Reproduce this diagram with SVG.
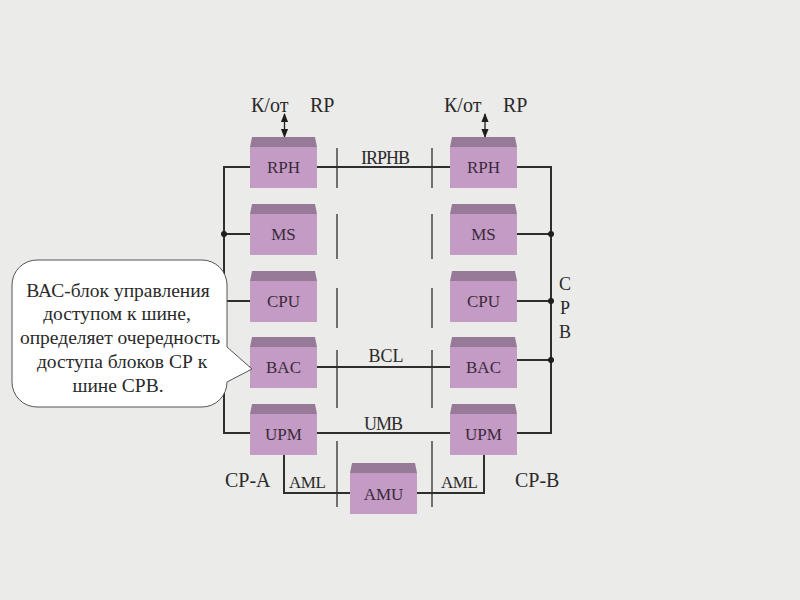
<svg xmlns="http://www.w3.org/2000/svg" xmlns:xlink="http://www.w3.org/1999/xlink" width="800" height="600" viewBox="0 0 800 600">
<style>
text{font-family:'Liberation Serif','DejaVu Serif',serif}
.lbl{fill:#2a2a2a}
.bt{font-size:17px;fill:#3a2a3a;text-anchor:middle}
.ln{stroke:#2e2e2e;stroke-width:2;fill:none}
.sep{stroke:#2e2e2e;stroke-width:1.3;fill:none}
.dot{fill:#1e1e1e}
.co{font-size:19.5px;fill:#2a2a2a;text-anchor:middle}
</style>
<defs>
<g id="blk">
<rect x="0" y="10" width="67" height="41" fill="#c49bc4"/>
<polygon points="2,0 65,0 67,10 0,10" fill="#977a97"/>
</g>
<marker id="ah" viewBox="0 0 10 10" refX="9" refY="5" markerWidth="7" markerHeight="7" orient="auto-start-reverse">
<path d="M0,1 L10,5 L0,9 Z" fill="#1e1e1e"/>
</marker>
</defs>
<rect x="0" y="0" width="800" height="600" fill="#ebebe9"/>

<g id="connectors">
<path class="ln" d="M250,167 H224 V433 H250"/>
<path class="ln" d="M224,234 H250"/>
<path class="ln" d="M224,301 H250"/>
<path class="ln" d="M224,367 H250"/>
<circle class="dot" cx="224" cy="234" r="3"/>
<path class="ln" d="M517,167 H551 V433 H517"/>
<path class="ln" d="M517,234 H551"/>
<path class="ln" d="M517,301 H551"/>
<path class="ln" d="M517,360 H551"/>
<circle class="dot" cx="551" cy="234" r="3"/>
<circle class="dot" cx="551" cy="301" r="3"/>
<circle class="dot" cx="551" cy="360" r="3"/>
<path class="ln" d="M317,167 H450"/>
<path class="ln" d="M317,367 H450"/>
<path class="ln" d="M317,433 H450"/>
<path class="ln" d="M284,454 V493 H350"/>
<path class="ln" d="M417,493 H484 V454"/>
<path class="sep" d="M337,148 V188 M337,214 V259 M337,288 V328 M337,350 V408 M337,441 V507"/>
<path class="sep" d="M432,148 V188 M432,214 V259 M432,288 V328 M432,350 V408 M432,441 V507"/>
<line x1="284.5" y1="114" x2="284.5" y2="137" stroke="#1e1e1e" stroke-width="1.3" marker-start="url(#ah)" marker-end="url(#ah)"/>
<line x1="485" y1="114" x2="485" y2="137" stroke="#1e1e1e" stroke-width="1.3" marker-start="url(#ah)" marker-end="url(#ah)"/>
</g>

<g id="RPH-A" transform="translate(250,137)"><use xlink:href="#blk"/><text class="bt" x="33.5" y="36">RPH</text></g>
<g id="MS-A" transform="translate(250,204)"><use xlink:href="#blk"/><text class="bt" x="33.5" y="36">MS</text></g>
<g id="CPU-A" transform="translate(250,271)"><use xlink:href="#blk"/><text class="bt" x="33.5" y="36">CPU</text></g>
<g id="BAC-A" transform="translate(250,337)"><use xlink:href="#blk"/><text class="bt" x="33.5" y="36">BAC</text></g>
<g id="UPM-A" transform="translate(250,404)"><use xlink:href="#blk"/><text class="bt" x="33.5" y="36">UPM</text></g>

<g id="RPH-B" transform="translate(450,137)"><use xlink:href="#blk"/><text class="bt" x="33.5" y="36">RPH</text></g>
<g id="MS-B" transform="translate(450,204)"><use xlink:href="#blk"/><text class="bt" x="33.5" y="36">MS</text></g>
<g id="CPU-B" transform="translate(450,271)"><use xlink:href="#blk"/><text class="bt" x="33.5" y="36">CPU</text></g>
<g id="BAC-B" transform="translate(450,337)"><use xlink:href="#blk"/><text class="bt" x="33.5" y="36">BAC</text></g>
<g id="UPM-B" transform="translate(450,404)"><use xlink:href="#blk"/><text class="bt" x="33.5" y="36">UPM</text></g>

<g id="AMU" transform="translate(350,463)"><use xlink:href="#blk"/><text class="bt" x="33.5" y="37">AMU</text></g>

<g id="labels">
<text class="lbl" x="251" y="112" font-size="20">К/от</text>
<text class="lbl" x="310" y="112" font-size="20">RP</text>
<text class="lbl" x="444" y="112" font-size="20">К/от</text>
<text class="lbl" x="503" y="112" font-size="20">RP</text>
<text class="lbl" x="385" y="164" font-size="18" text-anchor="middle" letter-spacing="-1">IRPHB</text>
<text class="lbl" x="386" y="362" font-size="18" text-anchor="middle">BCL</text>
<text class="lbl" x="383" y="430" font-size="18" text-anchor="middle" letter-spacing="-1">UMB</text>
<text class="lbl" x="289" y="488" font-size="17" letter-spacing="-0.5">AML</text>
<text class="lbl" x="441" y="488" font-size="17" letter-spacing="-0.5">AML</text>
<text class="lbl" x="225" y="487" font-size="20">CP-A</text>
<text class="lbl" x="515" y="487" font-size="20">CP-B</text>
<text class="lbl" x="565" y="290" font-size="18" text-anchor="middle">С</text>
<text class="lbl" x="565" y="314" font-size="18" text-anchor="middle">Р</text>
<text class="lbl" x="565" y="338" font-size="18" text-anchor="middle">В</text>
</g>

<g id="callout">
<path d="M37,260 H202 A25,25 0 0 1 227,285 V347 L252,369 L227,382 A25,25 0 0 1 202,407 H37 A25,25 0 0 1 12,382 V285 A25,25 0 0 1 37,260 Z" fill="#ffffff" stroke="#555555" stroke-width="1"/>
<text class="co" x="118" y="297">ВАС-блок управления</text>
<text class="co" x="117" y="320">доступом к шине,</text>
<text class="co" x="120" y="344">определяет очередность</text>
<text class="co" x="122" y="368">доступа блоков СР к</text>
<text class="co" x="118" y="392">шине СРВ.</text>
</g>
</svg>
